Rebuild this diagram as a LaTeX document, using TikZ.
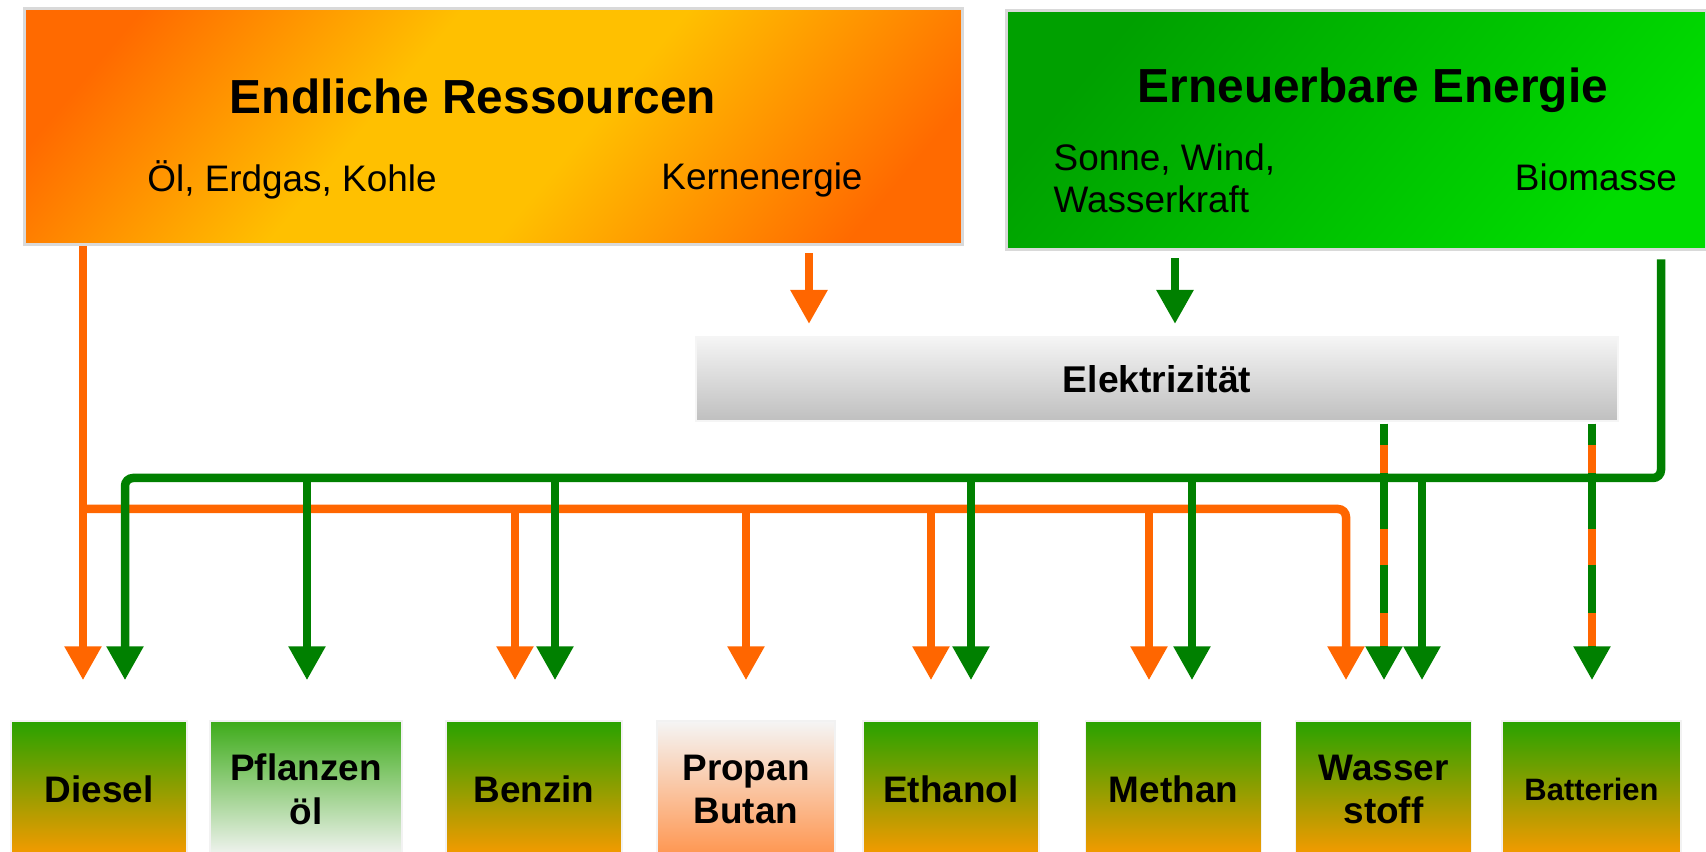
\documentclass[tikz,border=0pt]{standalone}
\usepackage{fontspec}
\setmainfont{Liberation Sans}
\usetikzlibrary{arrows.meta,calc}
\definecolor{linor}{HTML}{FF6600}
\definecolor{lingr}{HTML}{008000}
\definecolor{boxor}{HTML}{FF6A00}
\definecolor{boxye}{HTML}{FFC000}
\definecolor{boxgd}{HTML}{00A000}
\definecolor{boxgl}{HTML}{00DC00}
\definecolor{fuelgr}{HTML}{28A200}
\definecolor{fuelor}{HTML}{FA9A00}
\definecolor{edgegray}{HTML}{D9D9D9}
\pgfdeclarehorizontalshading{endlshade}{100bp}{color(0bp)=(boxor); color(22bp)=(boxor);
  color(42bp)=(boxye); color(56bp)=(boxye); color(78bp)=(boxor); color(100bp)=(boxor)}
\tikzset{
  srcbox/.style={draw=edgegray, line width=0.3mm, inner sep=0pt},
  fuelbox/.style={draw=white!95!black, minimum width=17.6mm, minimum height=13.7mm, inner sep=0pt,
    top color=fuelgr, bottom color=fuelor, align=center, font=\fontsize{10.5}{12.4}\selectfont\bfseries},
  titletext/.style={font=\fontsize{13.6}{16}\selectfont\bfseries},
  plaintext/.style={font=\fontsize{10.5}{12}\selectfont},
  oline/.style={draw=linor, line width=0.85mm},
  gline/.style={draw=lingr, line width=0.85mm},
  headarrow/.style={-{Triangle[width=3.5mm,length=3.4mm]}},
}
\begin{document}
\begin{tikzpicture}[x=0.1mm, y=-0.1mm]
\useasboundingbox (0,0) rectangle (1706,852);
% Quellen
\node[srcbox, minimum width=93.9mm, minimum height=23.6mm, shading=endlshade, shading angle=-40] (endl) at (493.5,127) {};
\node[srcbox, minimum width=70mm, minimum height=23.9mm, left color=boxgd, right color=boxgl, shading angle=50] (erneu) at (1356,130.5) {};
\node[titletext] (endlt) at (473,96) {Endliche Ressourcen};
\node[plaintext] (oel) at (292,180) {Öl, Erdgas, Kohle};
\node[plaintext] (kern) at (762,180) {Kernenergie};
\node[titletext] (erneut) at (1373,90) {Erneuerbare Energie};
\node[plaintext, align=left, anchor=west, inner sep=0pt] (sonne) at (1053,178) {Sonne, Wind,\\Wasserkraft};
\node[plaintext] (bio) at (1596,177) {Biomasse};
\node[draw=white!96!black, minimum width=92.2mm, minimum height=8.4mm, top color=white!96!black, bottom color=black!25,
  font=\fontsize{10.6}{12}\selectfont\bfseries] (elek) at (1157,379) {Elektrizität};
% Kraftstoffe
\node[fuelbox] (dies) at (99,789.5) {Diesel};
\node[fuelbox, minimum width=19.2mm, top color=fuelgr!90!white, bottom color=white!96!black] (pfl) at (306,789.5) {Pflanzen\\öl};
\node[fuelbox] (ben) at (534,789.5) {Benzin};
\node[fuelbox, minimum width=17.8mm, top color=white!96!black, bottom color=linor!70!white] (prop) at (746,789.5) {Propan\\Butan};
\node[fuelbox] (eth) at (951,789.5) {Ethanol};
\node[fuelbox] (meth) at (1173.5,789.5) {Methan};
\node[fuelbox] (wass) at (1383.5,789.5) {Wasser\\stoff};
\node[fuelbox, minimum width=17.9mm, font=\fontsize{8.8}{10}\selectfont\bfseries] (batt) at (1591.5,789.5) {Batterien};
% Pfeilspitzen
\foreach \n/\dx in {dies/-16, ben/-19, prop/0, eth/-20, meth/-24.5, wass/-37.5}
  \coordinate (o-\n) at ($(\n.north)+(\dx,-40)$);
\foreach \n/\dx in {dies/26, pfl/1, ben/21, eth/20, meth/18.5, wass/38.5}
  \coordinate (g-\n) at ($(\n.north)+(\dx,-40)$);
\foreach \n in {wass, batt}
  \coordinate (d-\n) at ($(\n.north)+(0.5,-40)$);
\coordinate (obus) at (0,509);
\coordinate (gturn) at (1661,478);
\coordinate (kfoot) at (809,324);
\coordinate (sfoot) at (1175,324);
% Pfeile oben
\draw[oline, headarrow, shorten <=0.7mm] (endl.south -| kfoot) -- (kfoot);
\draw[gline, headarrow, shorten <=0.7mm] (erneu.south -| sfoot) -- (sfoot);
% orange
\draw[oline, headarrow] (endl.south -| o-dies) -- (o-dies);
\draw[oline, headarrow, rounded corners=0.8mm] (obus -| o-dies) -- (obus -| o-wass) -- (o-wass);
\foreach \n in {ben, prop, eth, meth}
  \draw[oline, headarrow] (obus -| o-\n) -- (o-\n);
% gruen
\draw[gline, headarrow, rounded corners=0.8mm, shorten <=0.8mm] (erneu.south -| gturn) -- (gturn) -- (gturn -| g-dies) -- (g-dies);
\foreach \n in {pfl, ben, eth, meth, wass}
  \draw[gline, headarrow] (gturn -| g-\n) -- (g-\n);
% Strom
\foreach \n in {wass, batt}{
  \draw[oline, shorten <=0.2mm, shorten >=3.3mm] (elek.south -| d-\n) -- (d-\n);
  \draw[gline, headarrow, shorten <=0.2mm, dash pattern=on 2.1mm off 2.8mm on 5.6mm off 3.6mm on 4.8mm off 3.3mm] (elek.south -| d-\n) -- (d-\n);
}
\end{tikzpicture}
\end{document}
